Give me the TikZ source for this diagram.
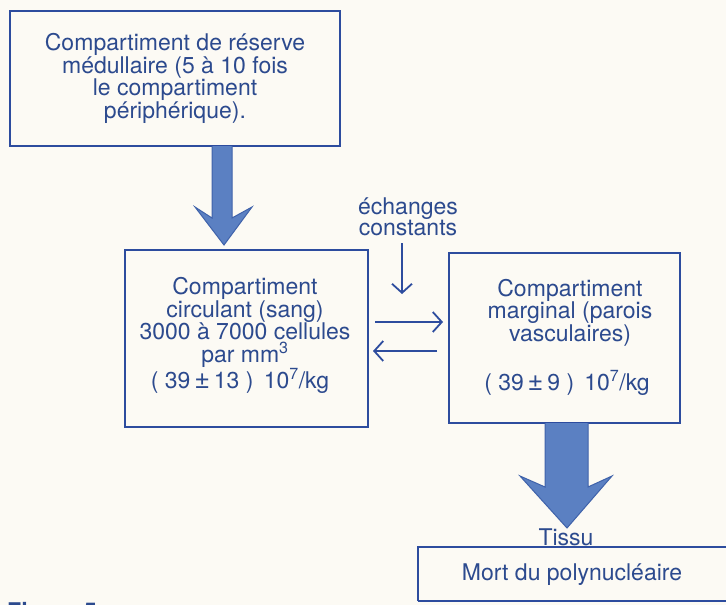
\documentclass[tikz,border=0pt]{standalone}
\usepackage{fontspec}
\setmainfont{TeX Gyre Heros}
\usetikzlibrary{arrows.meta}
\definecolor{ink}{HTML}{2C4A8E}
\definecolor{edge}{HTML}{2D4C9E}
\definecolor{paper}{HTML}{FCFAF4}
\definecolor{flow}{HTML}{5B80C2}
\definecolor{flowedge}{HTML}{3F62AA}
\newcommand{\pmbig}{{\fontsize{27}{27}\selectfont ±}}
\tikzset{
  box/.style={draw=edge, line width=2pt, rectangle, inner sep=0pt, align=center, text=ink},
  lbl/.style={text=ink, inner sep=0pt, align=center},
  thin/.style={draw=edge, line width=1.8pt, -{Straight Barb[length=9pt,width=20pt,line width=1.8pt]}},
  bigarrow/.style={fill=flow, draw=flowedge, line width=1pt, line join=miter}
}
\begin{document}
\begin{tikzpicture}[x=1pt,y=-1pt,font=\fontsize{23}{22.6}\selectfont]
\useasboundingbox (0,0) rectangle (726,605);
\clip (0,0) rectangle (726,605);
\fill[paper] (0,0) rectangle (726,605);
% boxes
\node[box, minimum width=330pt, minimum height=135pt] (res) at (175,78.5)
  {Compartiment de réserve\\médullaire (5 à 10 fois\\le compartiment\\périphérique).};
\node[box, minimum width=243pt, minimum height=177pt] (circ) at (246.5,338.5) {};
\node[lbl] (circt) at (240,335.5)
  {\hspace*{10pt}Compartiment\\\hspace*{10pt}circulant (sang)\\\hspace*{10pt}3000 à 7000 cellules\\\hspace*{10pt}par mm\textsuperscript{3}\\( 39\,\pmbig\,13 )\, 10\textsuperscript{7}/kg};
\node[box, minimum width=231pt, minimum height=170pt] (marg) at (564.5,338) {};
\node[lbl] (margt) at (567,337.5)
  {\hspace*{6pt}Compartiment\\\hspace*{6pt}marginal (parois\\\hspace*{6pt}vasculaires)\\[23.5pt]( 39\,\pmbig\,9 )\, 10\textsuperscript{7}/kg};
% echanges
\node[lbl, font=\fontsize{23}{21}\selectfont] (ech) at (408,217) {échanges\\constants};
\coordinate (e1) at (402,243);
\coordinate (e2) at (402,294);
\draw[thin] (e1) -- (e2);
\coordinate (r1) at (375,322);
\coordinate (r2) at (443,322);
\coordinate (l1) at (437,351);
\coordinate (l2) at (373,351);
\draw[thin] (r1) -- (r2);
\draw[thin] (l1) -- (l2);
% big arrow 1
\draw[bigarrow] (212,146) -- (212,218) -- (195,207) -- (224,245) -- (252,207) -- (232,218) -- (232,146);
% big arrow 2
\draw[bigarrow] (545,423) -- (545,487) -- (520,476) -- (567,528) -- (612,476) -- (588,487) -- (588,423);
% bottom
\node[lbl] (tissu) at (566,537) {Tissu};
\draw[edge, line width=2pt] (418,601) -- (418,547) -- (730,547);
\draw[edge, line width=2pt] (418,601) -- (730,601);
\node[lbl] (mort) at (572,575) {Mort du polynucléaire};
\node[text=ink, inner sep=0pt, anchor=base west, font=\fontsize{23}{23}\bfseries] (fig) at (7,619) {Figure 5};
\end{tikzpicture}
\end{document}
